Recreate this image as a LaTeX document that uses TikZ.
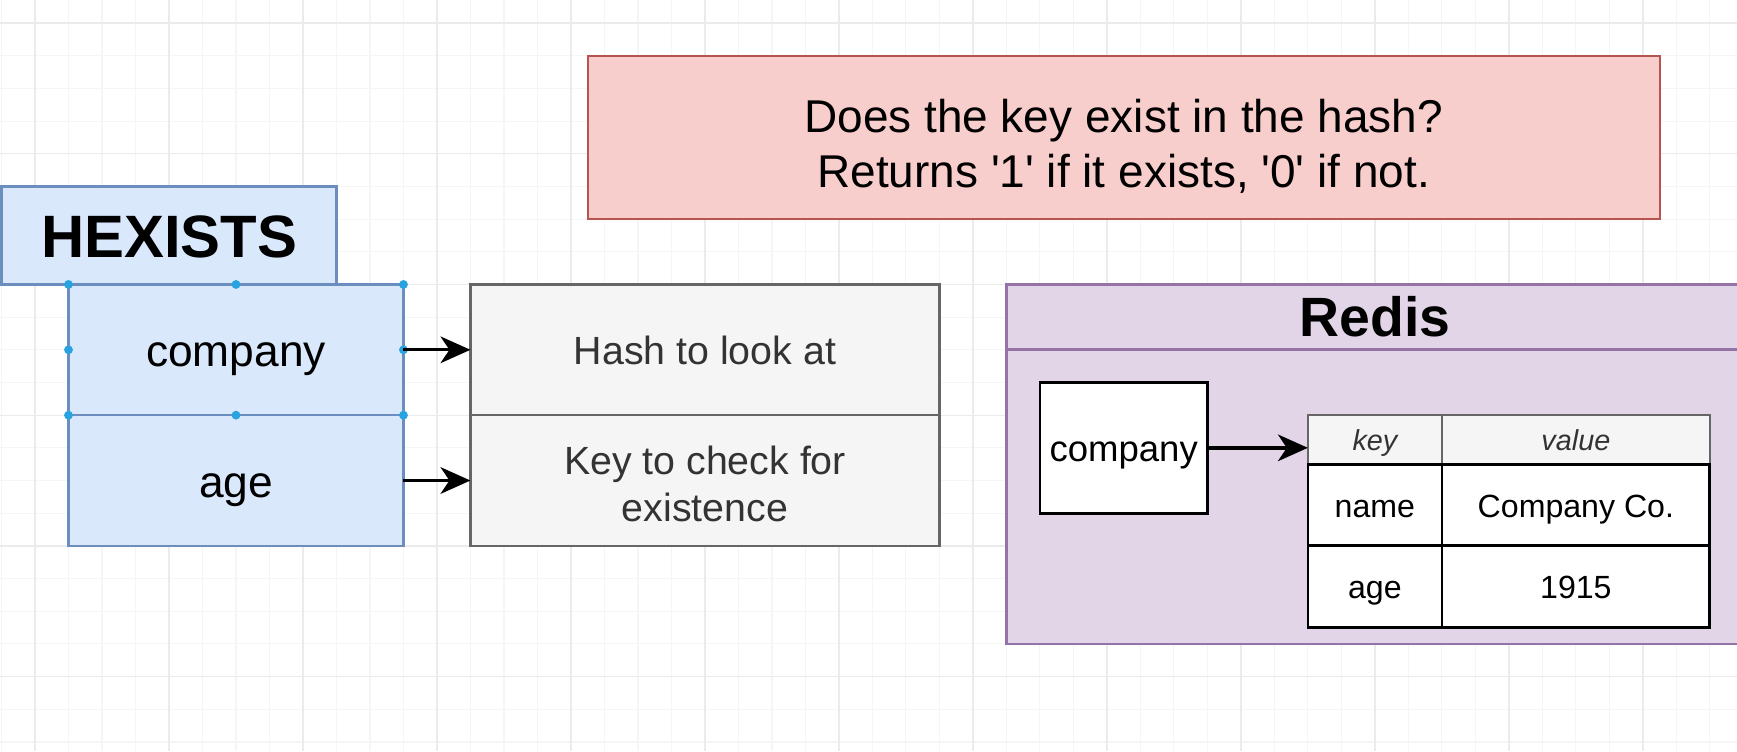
\documentclass[tikz,border=0pt]{standalone}
\usepackage{fontspec}
\setmainfont{Liberation Sans}
\usetikzlibrary{arrows.meta}
\usetikzlibrary{positioning}

\definecolor{blueFill}{HTML}{DAE8FC}
\definecolor{blueLine}{HTML}{6C8EBF}
\definecolor{grayFill}{HTML}{F5F5F5}
\definecolor{grayLine}{HTML}{666666}
\definecolor{grayText}{HTML}{333333}
\definecolor{redFill}{HTML}{F8CECC}
\definecolor{redLine}{HTML}{B85450}
\definecolor{purpleFill}{HTML}{E1D5E7}
\definecolor{purpleLine}{HTML}{9673A6}
\definecolor{handleBlue}{HTML}{29A3E0}
\definecolor{gridMinor}{HTML}{F5F5F5}
\definecolor{gridMajor}{HTML}{EBEBEB}

\begin{document}
\begin{tikzpicture}[x=30.24pt, y=-29.5pt]
        \tikzset{
          >={Stealth[length=27pt,width=24pt,inset=8pt]},
          node distance=60.48pt,
          link/.style={->, line width=3pt},
          minor/.style={gridMinor, line width=1pt},
          major/.style={gridMajor, line width=1.2pt},
          box/.style={
            draw,
            line width=2pt,
            inner sep = 0pt,
            outer sep = 0pt,
            align=center,
            font=\fontsize{40}{48}\selectfont,
          },
          oneline/.style 2 args={text height=#1, text depth=#2},
          cmd/.style={box, draw=blueLine, fill=blueFill, minimum width=302.4pt},
          arg/.style={box, draw=grayLine, fill=grayFill, text=grayText,
            minimum width=423.4pt, minimum height=118pt,
            font=\fontsize{35.5}{43}\selectfont},
          note/.style={box, draw=redLine, fill=redFill,
            minimum width=967.7pt, minimum height=147.5pt,
            font=\fontsize{41.5}{50}\selectfont},
          store/.style={box, draw=purpleLine, fill=purpleFill, line width=2.5pt},
          head/.style={box, oneline={20.8pt}{1.3pt}, draw=grayLine, fill=grayFill, text=grayText,
            minimum height=44.25pt, font=\itshape\fontsize{26}{30}\selectfont},
          cell/.style={box, oneline={23.2pt}{1.5pt}, draw=black, fill=white, line width=2.5pt,
            minimum height=73.75pt, font=\fontsize{29}{34}\selectfont},
          handle/.style={fill=handleBlue},
        }
        \useasboundingbox (-1.045,-0.705) rectangle (50.81,22.28);
        \fill[white] (-1.045,-0.705) rectangle (50.81,22.28);

        % background grid
        \foreach \i in {-1,...,50}
          \draw[minor] (\i,-0.705) -- (\i,22.28);
        \foreach \j in {0,...,22}
          \draw[minor] (-1.045,\j) -- (50.81,\j);
        \foreach \i in {0,4,...,48}
          \draw[major] (\i,-0.705) -- (\i,22.28);
        \foreach \j in {0,4,...,20}
          \draw[major] (-1.045,\j) -- (50.81,\j);

        \node[note] (question) at (32.5,3.5)
          {\rule{0pt}{46pt}Does the key exist in the hash?\\Returns \textquotesingle1\textquotesingle{} if it exists, \textquotesingle0\textquotesingle{} if not.};

        \node[cmd, oneline={43pt}{3pt}, minimum height=88.5pt, font=\bfseries\fontsize{54}{60}\selectfont] (hexists) at (4,6.5) {HEXISTS};
        \node[cmd, oneline={32pt}{2pt}, minimum height=118pt] (company) at (6,10) {company};
        \node[cmd, oneline={32pt}{2pt}, minimum height=118pt, below=0pt of company] (age) {age};
        \node[arg, oneline={28.4pt}{1.8pt}, right=of company] (hash) {Hash to look at};
        \node[arg, below=0pt of hash] (key) {\rule{0pt}{32pt}Key to check for\\existence};

        % selection handles
        \foreach \p in {north west, north, north east, west, east, south west, south, south east}
          \fill[handle] (company.\p) circle (4pt);

        \draw
          (company) edge[link] (hash)
          (age) edge[link] (key);

        % redis store
        \node[store, minimum width=665.3pt, minimum height=324.5pt] (redis) at (40,13.5) {};
        \draw[purpleLine, line width=2.5pt] (redis.west |- 0,10) -- (redis.east |- 0,10);
        \node[font=\bfseries\fontsize{50}{56}\selectfont] (redistitle) at (40,9) {Redis};
        \node[box, oneline={26.4pt}{1.7pt}, fill=white, line width=2.5pt, minimum width=151.2pt, minimum height=118pt,
          font=\fontsize{33}{38}\selectfont] (entry) at (32.5,13) {company};

        \node[head, minimum width=121pt] (keyhead) at (40,12.75) {key};
        \node[head, minimum width=241.9pt] (valhead) at (46,12.75) {value};
        \node[cell, minimum width=121pt] (namekey) at (40,14.75) {name};
        \node[cell, minimum width=241.9pt] (nameval) at (46,14.75) {Company Co.};
        \node[cell, minimum width=121pt] (agekey) at (40,17.25) {age};
        \node[cell, minimum width=241.9pt] (ageval) at (46,17.25) {1915};

        \draw[link] (entry.east) -- (entry.east -| keyhead.west);
\end{tikzpicture}
\end{document}
